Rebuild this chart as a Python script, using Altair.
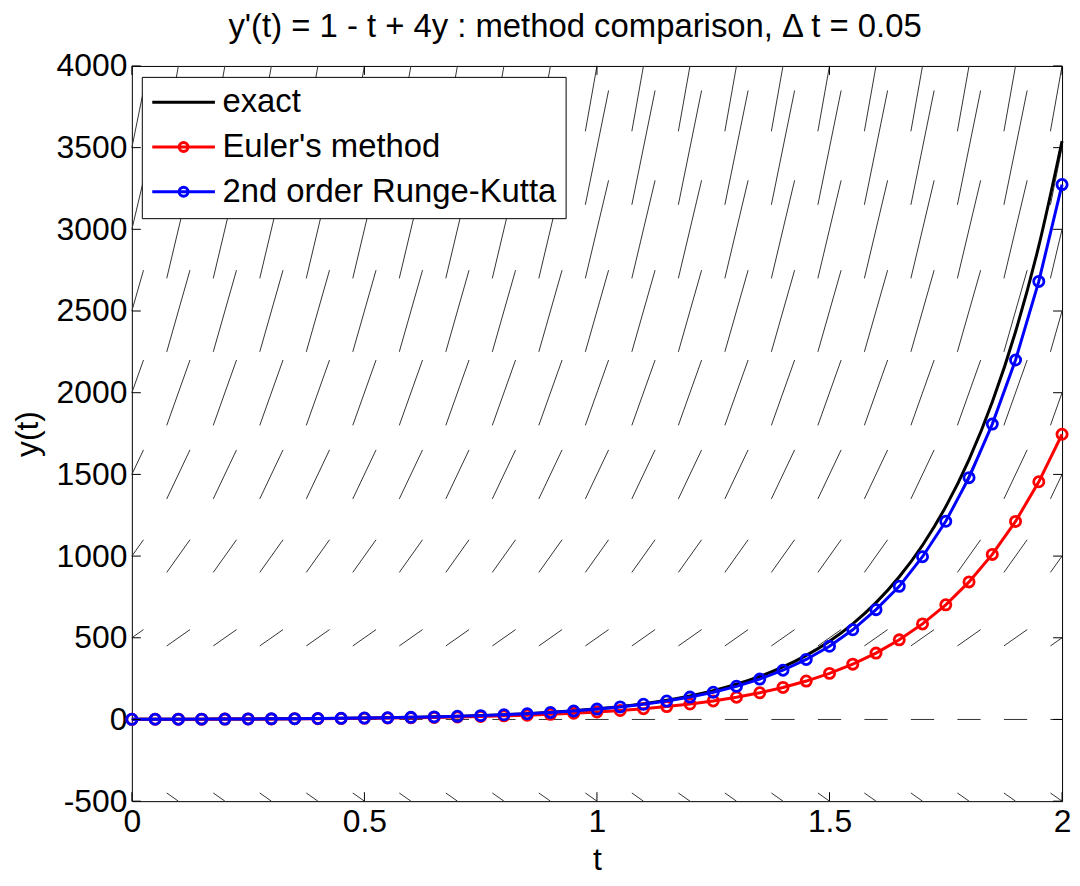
import altair as alt
import pandas as pd

# ---------------- data ----------------
t_vals = [0, 0.05, 0.1, 0.15, 0.2, 0.25, 0.3, 0.35, 0.4, 0.45, 0.5, 0.55, 0.6, 0.65,
          0.7, 0.75, 0.8, 0.85, 0.9, 0.95, 1.0, 1.05, 1.1, 1.15, 1.2, 1.25, 1.3, 1.35,
          1.4, 1.45, 1.5, 1.55, 1.6, 1.65, 1.7, 1.75, 1.8, 1.85, 1.9, 1.95, 2.0]

exact_vals = [1, 1.2754, 1.609, 2.0138, 2.5053, 3.103, 3.8301, 4.7156, 5.7942, 7.109,
              8.712, 10.6672, 13.0525, 15.9632, 19.5155, 23.8516, 29.1449, 35.6074,
              43.4979, 53.1327, 64.8978, 79.265, 96.8104, 118.2376, 144.4061, 176.3656,
              215.3983, 263.0701, 321.2939, 392.4057, 479.2592, 585.3395, 714.9035,
              873.1505, 1066.4312, 1302.5019, 1590.8365, 1943.0065, 2373.1451,
              2898.5148, 3540.2001]

euler_vals = [1, 1.25, 1.5475, 1.902, 2.3249, 2.8299, 3.4334, 4.155, 5.0185, 6.0522,
              7.2902, 8.7732, 10.5504, 12.6804, 15.234, 18.2958, 21.9675, 26.371,
              31.6527, 37.9883, 45.5884, 54.7061, 65.6448, 78.7688, 94.515, 113.408,
              136.077, 163.278, 195.916, 235.079, 282.072, 338.461, 406.126, 487.321,
              584.753, 701.669, 841.965, 1010.32, 1212.34, 1454.76, 1745.67]

rk2_vals = [1, 1.2738, 1.605, 2.0063, 2.4932, 3.0845, 3.803, 4.677, 5.7404, 7.035,
            8.6118, 10.5326, 12.8733, 15.7261, 19.2039, 23.444, 28.6141, 34.919,
            42.6082, 51.9862, 63.4247, 76.6, 92.9, 112.6, 136.9, 166.6, 202.8, 247,
            301.3, 367.4, 448, 549, 672, 815, 996, 1213, 1480, 1808, 2200, 2681, 3274]

series_names = ["exact", "Euler's method", "2nd order Runge-Kutta"]
series_colors = ["#000000", "#ff0000", "#0000ff"]

# direction-field grid
field_t = [0, 0.1, 0.2, 0.3, 0.4, 0.5, 0.6, 0.7, 0.8, 0.9, 1.0, 1.1, 1.2, 1.3, 1.4,
           1.5, 1.6, 1.7, 1.8, 1.9, 2.0]
field_y = [-500, 0, 500, 1000, 1500, 2000, 2500, 3000, 3500, 4000]

x_domain = [0, 2]
y_domain = [-500, 4000]
x_ticks = [0, 0.5, 1, 1.5, 2]
y_ticks = [-500, 0, 500, 1000, 1500, 2000, 2500, 3000, 3500, 4000]

title_text = "y'(t) = 1 - t + 4y : method comparison, \u0394 t = 0.05"

# ---------------- layout / style ----------------
W, H = 935, 739
FONT = "Liberation Sans"
FS = 32
LEG_FS = 33
HALF_DT = 0.025
TICK = 9

df = pd.concat(
    [pd.DataFrame({"t": t_vals, "y": vals, "series": name})
     for name, vals in zip(series_names, [exact_vals, euler_vals, rk2_vals])],
    ignore_index=True)

field = pd.DataFrame([(t, y) for y in field_y for t in field_t], columns=["ft", "fy"])
xt_df = pd.DataFrame({"t": x_ticks})
yt_df = pd.DataFrame({"y": y_ticks})

xs = alt.Scale(domain=x_domain, nice=False, zero=False)
ys = alt.Scale(domain=y_domain, nice=False, zero=False)
cs = alt.Scale(domain=series_names, range=series_colors)

# legend symbols: a 63px line sample (with a small ring for the two methods)
line_path = "M-2.1,0L2.1,0"
circle_path = "M-2.1,0L2.1,0M0.3,0A0.3,0.3 0 1 1 -0.3,0A0.3,0.3 0 1 1 0.3,0"
shp = alt.Scale(domain=series_names, range=[line_path, circle_path, circle_path])

x_axis = alt.Axis(values=x_ticks, labelExpr="'' + datum.value", ticks=False, domain=False,
                  grid=False, labelFont=FONT, labelFontSize=FS, labelColor="black",
                  labelPadding=6, labelFlush=False, labelOverlap=False,
                  title="t", titleFont=FONT, titleFontSize=FS, titleFontWeight="normal",
                  titleColor="black", titleY=59, titleBaseline="middle")
y_axis = alt.Axis(values=y_ticks, labelExpr="'' + datum.value", ticks=False, domain=False,
                  grid=False, labelFont=FONT, labelFontSize=FS, labelColor="black",
                  labelPadding=5, labelFlush=False, labelOverlap=False,
                  title="y(t)", titleFont=FONT, titleFontSize=FS, titleFontWeight="normal",
                  titleColor="black", titleX=-105, titleY=H / 2, titleBaseline="middle",
                  titleAngle=270)

legend = alt.Legend(
    orient="none", legendX=10, legendY=11, title=None,
    symbolSize=900, symbolStrokeWidth=3, symbolOpacity=1, symbolOffset=16.5,
    symbolFillColor="transparent",
    labelFont=FONT, labelFontSize=LEG_FS, labelColor="black", labelOffset=22.5,
    labelLimit=0,
    padding=9, rowPadding=11, strokeColor="black", fillColor="white",
    cornerRadius=0,
)


def X(field_name):
    return alt.X(field_name, type="quantitative", scale=xs, axis=x_axis)


def Y(field_name):
    return alt.Y(field_name, type="quantitative", scale=ys, axis=y_axis)


COLOR = alt.Color("series:N", scale=cs, legend=legend)

# direction field: short segments of slope f(t, y) = 1 - t + 4y, cut at the plot frame
h = HALF_DT
t0, t1 = x_domain
y0, y1 = y_domain
field_layer = alt.Chart(field).transform_calculate(
    m="1 - datum.ft + 4 * datum.fy",
).transform_calculate(
    sa=(f"max(-1, ({t0} - datum.ft) / {h}, datum.m > 0 ? ({y0} - datum.fy) / ({h} * datum.m)"
        f" : (datum.m < 0 ? ({y1} - datum.fy) / ({h} * datum.m) : -1))"),
    sb=(f"min(1, ({t1} - datum.ft) / {h}, datum.m > 0 ? ({y1} - datum.fy) / ({h} * datum.m)"
        f" : (datum.m < 0 ? ({y0} - datum.fy) / ({h} * datum.m) : 1))"),
).transform_calculate(
    ta=f"datum.ft + datum.sa * {h}", tb=f"datum.ft + datum.sb * {h}",
    ya=f"datum.fy + datum.sa * {h} * datum.m", yb=f"datum.fy + datum.sb * {h} * datum.m",
).mark_rule(color="#333333", strokeWidth=1).encode(
    x=X("ta"), x2="tb", y=Y("ya"), y2="yb")

base = alt.Chart(df)

exact_layer = base.transform_filter(alt.datum.series == "exact").mark_line(
    strokeWidth=3, interpolate="monotone").encode(x=X("t"), y=Y("y"), color=COLOR)


def method_layers(name):
    sub = base.transform_filter(alt.datum.series == name)
    line = sub.mark_line(strokeWidth=3).encode(x=X("t"), y=Y("y"), color=COLOR)
    pts = sub.mark_point(shape="circle", filled=False, size=105, strokeWidth=2.8,
                         opacity=1).encode(x=X("t"), y=Y("y"), color=COLOR)
    return [line, pts]


# invisible layer that only carries the legend symbols (line + marker)
legend_layer = base.mark_point(opacity=0, filled=False, strokeWidth=3).encode(
    x=X("t"), y=Y("y"), color=COLOR,
    shape=alt.Shape("series:N", scale=shp, legend=legend))

rule = dict(color="black", strokeWidth=1)
ticks_left = alt.Chart(yt_df).mark_rule(**rule).encode(
    y=Y("y"), x=alt.value(0), x2=alt.value(TICK))
ticks_right = alt.Chart(yt_df).mark_rule(**rule).encode(
    y=Y("y"), x=alt.value(W - TICK), x2=alt.value(W))
ticks_bottom = alt.Chart(xt_df).mark_rule(**rule).encode(
    x=X("t"), y=alt.value(H - TICK), y2=alt.value(H))
ticks_top = alt.Chart(xt_df).mark_rule(**rule).encode(
    x=X("t"), y=alt.value(0), y2=alt.value(TICK))

chart = alt.layer(
    field_layer, exact_layer,
    *method_layers("Euler's method"),
    *method_layers("2nd order Runge-Kutta"),
    legend_layer,
    ticks_left, ticks_right, ticks_bottom, ticks_top,
).properties(
    width=W, height=H,
    background="white",
    autosize=alt.AutoSizeParams(type="none"),
    padding={"left": 124.5, "top": 56, "right": 10, "bottom": 75},
    title=alt.TitleParams(title_text, font=FONT, fontSize=33, fontWeight="normal",
                          color="black", anchor="middle", baseline="middle",
                          offset=21, dx=-22, dy=31),
).configure_view(stroke="black", strokeWidth=1)

chart.save("out.html", embed_options={"renderer": "svg", "actions": False})
